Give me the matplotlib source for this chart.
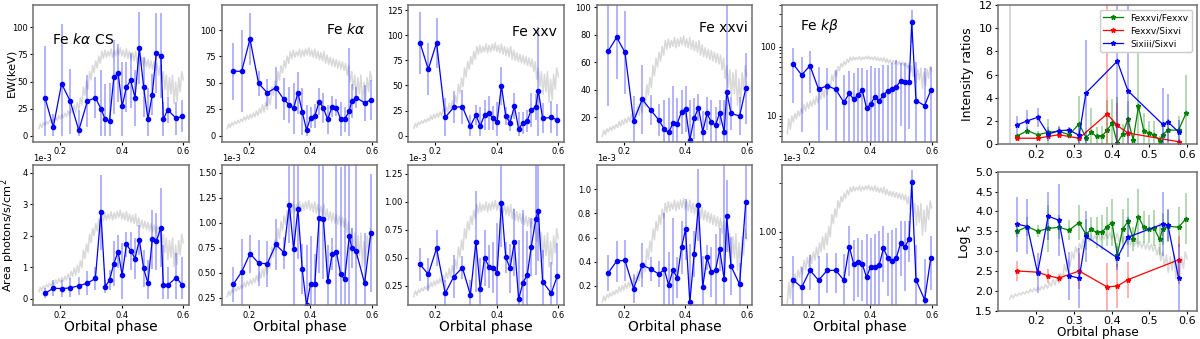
import numpy as np
import matplotlib
matplotlib.use('Agg')
import matplotlib.pyplot as plt
from matplotlib.ticker import ScalarFormatter, NullFormatter

plt.rcParams['axes.unicode_minus'] = False
plt.rcParams['mathtext.fontset'] = 'dejavusans'

# orbital phase of the spectral bins
phase = [0.150, 0.177, 0.204, 0.232, 0.260, 0.288, 0.314, 0.332, 0.346, 0.360, 0.374, 0.388, 0.401,
         0.415, 0.429, 0.443, 0.457, 0.471, 0.485, 0.499, 0.512, 0.527, 0.535, 0.549, 0.577, 0.597]

# equivalent widths (eV)
ew_kacs = [35, 8, 48, 32, 5, 32, 35, 25, 15, 13.5, 54, 58, 27, 45, 51, 35, 81, 45, 15, 38, 76, 74, 15, 24, 16, 18]
ew_kacs_err = [48, 12, 55, 30, 19, 24, 19, 36, 33, 35, 34, 27, 41, 23, 25, 26, 33, 28, 29, 19, 37, 39, 16, 12, 15, 15]
ew_ka = [61, 61, 91.5, 49.5, 40.7, 45.4, 34.4, 29, 26, 40.7, 22.7, 5.4, 17, 18.6, 32.2, 26, 15.5, 27.4, 26.5,
         15.5, 15.5, 23.3, 32.8, 36, 31.2, 33.8]
ew_ka_err = [27, 39, 25, 12, 13, 20, 20, 17, 24, 20, 22, 24, 10, 11, 13, 14, 14, 10, 8, 16, 12, 60, 16, 10, 17, 19]
ew_fe25 = [92.5, 66, 92.5, 18.2, 28.2, 28.8, 9.6, 20.6, 9.6, 20.6, 22.2, 17.2, 13.9, 49.7, 19.6, 12.9, 29.5, 6.6,
           12.9, 14.9, 25.5, 28.8, 44.8, 17.2, 18.2, 15.6]
ew_fe25_err = [31, 26, 25, 19, 16, 17, 11, 10, 19, 15, 17, 12, 20, 19, 9, 8, 13, 17, 11, 11, 17, 13, 63, 15, 16, 16]
ew_fe26 = [68.4, 78.2, 67.2, 17.2, 33, 25.2, 18, 11.2, 9, 15.5, 15.3, 24, 26, 3.4, 19.2, 27, 9.5, 22.8, 16.3,
           14.3, 23.3, 9.2, 38.6, 22.8, 20.9, 41]
ew_fe26_err = [40, 30, 30, 18, 25, 11, 12, 21, 25, 27, 19, 16, 17, 29, 15, 10, 15, 12, 16, 13, 9, 23, 65, 12, 14, 26]
ew_kb = [55.5, 38.8, 53, 24.1, 27.2, 24, 15.6, 21, 17.3, 19.9, 23.6, 12.8, 14.6, 18.8, 16.3, 20.1, 22.8, 24, 26.3,
         32.1, 30.4, 30.4, 225, 16.5, 14, 23.3]
ew_kb_err = [40, 33, 32, 27, 21, 22, 23, 23, 24, 29, 25, 33, 37, 30, 32, 34, 31, 33, 38, 25, 27, 24, 114, 44, 35, 28]

# line areas (1e-3 photons/s/cm2)
area_kacs = [0.18, 0.34, 0.33, 0.35, 0.42, 0.50, 0.65, 2.74, 0.39, 0.60, 1.12, 1.50, 0.76, 1.73, 1.53, 1.28, 1.87,
             0.97, 0.50, 1.89, 1.82, 2.26, 0.44, 0.43, 0.68, 0.44]
area_kacs_err = [0.16, 0.26, 0.26, 0.30, 0.28, 0.37, 0.37, 1.19, 0.21, 0.32, 0.70, 0.53, 1.00, 0.40, 0.60, 0.64,
                 0.47, 0.58, 0.73, 0.93, 0.90, 1.24, 1.27, 0.59, 0.77, 0.90]
area_ka = [0.388, 0.51, 0.693, 0.598, 0.591, 0.784, 0.703, 1.182, 0.738, 1.14, 0.535, 0.178, 0.388, 0.388, 1.052,
           1.035, 0.416, 0.685, 0.713, 0.486, 0.437, 0.867, 0.752, 0.717, 0.395, 0.895]
area_ka_err = [0.175, 0.33, 0.19, 0.23, 0.23, 0.25, 0.16, 0.38, 0.85, 0.50, 0.25, 0.60, 0.48, 0.30, 0.55, 0.60,
               0.36, 0.16, 0.90, 1.07, 1.15, 0.75, 0.20, 0.90, 0.50, 0.59]
area_fe25 = [0.443, 0.354, 0.586, 0.185, 0.333, 0.414, 0.17, 0.646, 0.22, 0.503, 0.423, 0.414, 0.369, 0.994, 0.506,
             0.408, 0.64, 0.131, 0.28, 0.348, 0.6, 0.848, 0.923, 0.289, 0.185, 0.34]
area_fe25_err = [0.15, 0.15, 0.16, 0.12, 0.19, 0.10, 0.13, 0.45, 0.28, 0.25, 0.19, 0.23, 0.44, 0.40, 0.14, 0.22,
                 0.30, 0.53, 0.65, 0.39, 0.26, 0.50, 0.45, 0.28, 0.28, 0.29]
area_fe26 = [0.31, 0.406, 0.412, 0.178, 0.374, 0.34, 0.299, 0.337, 0.208, 0.332, 0.268, 0.519, 0.668, 0.064, 0.461,
             0.87, 0.194, 0.436, 0.315, 0.332, 0.503, 0.254, 0.779, 0.365, 0.213, 0.895]
area_fe26_err = [0.15, 0.17, 0.17, 0.12, 0.18, 0.10, 0.11, 0.47, 0.27, 0.43, 0.17, 0.22, 0.25, 0.48, 0.19, 0.30,
                 0.25, 0.10, 0.21, 0.30, 0.18, 0.95, 0.30, 0.24, 0.18, 0.31]
area_kb = [0.499, 0.451, 0.575, 0.499, 0.575, 0.575, 0.499, 0.807, 0.63, 0.652, 0.63, 0.521, 0.605, 0.605, 0.62,
           0.787, 0.689, 0.662, 0.689, 0.849, 0.80, 0.905, 2.03, 0.50, 0.377, 0.685]
area_kb_err = [0.21, 0.15, 0.14, 0.21, 0.16, 0.16, 0.23, 0.28, 0.26, 0.26, 0.26, 0.44, 0.31, 0.36, 0.39, 0.30,
               0.29, 0.37, 0.37, 0.32, 0.37, 0.26, 0.38, 0.33, 0.30, 0.25]

# line ratios and ionisation parameter
phase_red = [0.150, 0.204, 0.232, 0.260, 0.314, 0.388, 0.415, 0.443, 0.577]
phase_blue = [0.150, 0.177, 0.204, 0.232, 0.260, 0.288, 0.314, 0.332, 0.415, 0.443, 0.535, 0.549, 0.577]
ratio_fe26_fe25 = [0.7, 1.15, 0.8, 1.0, 1.1, 0.8, 1.75, 0.55, 1.0, 0.65, 0.65, 1.2, 1.8, 0.1, 0.85, 2.15, 0.35,
                   3.25, 1.15, 0.95, 0.8, 0.3, 0.8, 1.2, 1.2, 2.65]
ratio_fe26_fe25_err = [0.2, 0.3, 0.3, 1.2, 0.4, 0.4, 2.4, 0.6, 2.1, 0.8, 0.9, 2.6, 2.1, 4.0, 0.9, 1.6, 0.4, 4.8,
                       1.5, 1.0, 1.2, 0.4, 0.8, 1.0, 1.2, 3.3]
ratio_fe25_si16 = [0.5, 0.5, 0.65, 0.8, 0.5, 2.6, 1.6, 0.95, 0.2]
ratio_fe25_si16_err = [0.15, 0.15, 0.15, 0.2, 0.2, 12, 1.9, 1.4, 0.2]
ratio_si13_si16 = [1.65, 2.0, 2.3, 0.85, 1.15, 1.2, 0.75, 4.4, 7.15, 4.6, 1.7, 1.9, 1.05]
ratio_si13_si16_err = [0.75, 0.9, 0.8, 0.6, 0.4, 0.3, 0.8, 4.6, 8, 8, 3.1, 2.4, 1.0]
logxi_fe26_fe25 = [3.5, 3.62, 3.5, 3.57, 3.6, 3.53, 3.72, 3.42, 3.55, 3.47, 3.47, 3.62, 3.72, 2.9, 3.55, 3.75, 3.3,
                   3.87, 3.6, 3.55, 3.58, 3.3, 3.55, 3.63, 3.6, 3.82]
logxi_fe26_fe25_err = [0.15, 0.25, 0.15, 0.6, 0.3, 0.25, 0.45, 0.4, 0.3, 0.4, 0.45, 0.5, 0.6, 0.3, 0.5, 0.6, 0.3,
                       0.7, 0.4, 0.35, 0.45, 0.4, 0.4, 0.4, 0.5, 0.65]
logxi_fe25_si16 = [2.5, 2.47, 2.38, 2.32, 2.5, 2.1, 2.12, 2.28, 2.78]
logxi_fe25_si16_err = [0.25, 0.1, 0.18, 0.1, 0.45, 0.6, 0.55, 0.45, 0.6]
logxi_si13_si16 = [3.68, 3.62, 2.45, 3.88, 3.78, 2.38, 2.32, 3.37, 2.83, 3.35, 3.68, 3.65, 2.33]
logxi_si13_si16_err = [0.69, 0.7, 0.5, 0.6, 0.9, 0.6, 0.75, 0.65, 0.3, 0.5, 0.8, 0.4, 0.85]

# background X-ray light curve (normalised)
lc_phase = [0.130, 0.135, 0.140, 0.145, 0.150, 0.155, 0.160, 0.165, 0.170, 0.175,
            0.180, 0.185, 0.190, 0.195, 0.200, 0.205, 0.210, 0.215, 0.220, 0.225,
            0.230, 0.235, 0.240, 0.245, 0.250, 0.255, 0.260, 0.265, 0.270, 0.275,
            0.280, 0.285, 0.290, 0.295, 0.300, 0.305, 0.310, 0.315, 0.320, 0.325,
            0.330, 0.335, 0.340, 0.345, 0.350, 0.355, 0.360, 0.365, 0.370, 0.375,
            0.380, 0.385, 0.390, 0.395, 0.400, 0.405, 0.410, 0.415, 0.420, 0.425,
            0.430, 0.435, 0.440, 0.445, 0.450, 0.455, 0.460, 0.465, 0.470, 0.475,
            0.480, 0.485, 0.490, 0.495, 0.500, 0.505, 0.510, 0.515, 0.520, 0.525,
            0.530, 0.535, 0.540, 0.545, 0.550, 0.555, 0.560, 0.565, 0.570, 0.575,
            0.580, 0.585, 0.590, 0.595, 0.600]
lc_rate = [0.07, 0.11, 0.08, 0.12, 0.10, 0.13, 0.11, 0.14, 0.12, 0.15,
           0.13, 0.17, 0.14, 0.18, 0.15, 0.19, 0.16, 0.20, 0.17, 0.22,
           0.18, 0.24, 0.20, 0.27, 0.21, 0.29, 0.23, 0.33, 0.27, 0.42,
           0.35, 0.47, 0.40, 0.55, 0.48, 0.60, 0.54, 0.64, 0.58, 0.68,
           0.62, 0.72, 0.66, 0.73, 0.67, 0.72, 0.68, 0.74, 0.67, 0.73,
           0.68, 0.74, 0.69, 0.75, 0.68, 0.73, 0.67, 0.74, 0.66, 0.72,
           0.65, 0.71, 0.64, 0.72, 0.62, 0.69, 0.61, 0.67, 0.60, 0.66,
           0.59, 0.65, 0.58, 0.64, 0.57, 0.63, 0.56, 0.62, 0.52, 0.60,
           0.46, 0.55, 0.40, 0.52, 0.34, 0.50, 0.36, 0.52, 0.28, 0.46,
           0.30, 0.50, 0.38, 0.55, 0.48]

titles = ['Fe $k\\alpha$ CS', 'Fe $k\\alpha$', 'Fe xxv', 'Fe xxvi', 'Fe $k\\beta$']
title_pos = [(0.12, 0.75), (0.67, 0.82), (0.667, 0.80), (0.66, 0.83), (0.117, 0.85)]

ew_sets = [(ew_kacs, ew_kacs_err), (ew_ka, ew_ka_err), (ew_fe25, ew_fe25_err),
           (ew_fe26, ew_fe26_err), (ew_kb, ew_kb_err)]
area_sets = [(area_kacs, area_kacs_err), (area_ka, area_ka_err), (area_fe25, area_fe25_err),
             (area_fe26, area_fe26_err), (area_kb, area_kb_err)]

ew_ylims = [(-5.5, 120.6), (-5.7, 123.7), (-6, 130), (2.2, 101.7), (4.2, 400)]
ew_ticks = [[0, 25, 50, 75, 100], [0, 25, 50, 75, 100], [0, 25, 50, 75, 100, 125], [20, 40, 60, 80, 100], None]
area_ylims = [(-0.19, 4.24), (0.18, 1.577), (0.08, 1.33), (0.043, 1.2), (0.35, 2.6)]
area_ticks = [[0, 1, 2, 3, 4], [0.25, 0.5, 0.75, 1.0, 1.25, 1.5], [0.25, 0.5, 0.75, 1.0, 1.25],
              [0.2, 0.4, 0.6, 0.8, 1.0], None]
lc_top_lims = [(-0.04, 1.11), (-0.04, 1.11), (-0.036, 1.05), (0.033, 0.96), (0.0545, 3.6)]
lc_bot_lims = [(-0.04, 1.13), (0.011, 1.0), (0.011, 1.0), (0.052, 0.97), (0.07, 1.12)]

SPINE = '#707070'


class TwoDecimalSci(ScalarFormatter):
    # log axis label like "1.00" with a "1e-3" offset
    def _set_format(self):
        self.format = '%1.2f'


def style(ax, size):
    for s in ax.spines.values():
        s.set_color(SPINE)
        s.set_linewidth(1.1)
    ax.tick_params(labelsize=size, length=2.5, pad=1.5, width=0.8)


def add_lc(ax, lims, log=False):
    tw = ax.twinx()
    tw.plot(lc_phase, lc_rate, color='#d9d9d9', lw=1.1)
    if log:
        tw.set_yscale('log')
    tw.set_ylim(lims)
    tw.axis('off')
    ax.set_zorder(tw.get_zorder() + 1)
    ax.patch.set_visible(False)


def draw(ax, x, y, err, color, marker='o', ms=3, clip=True):
    y = np.asarray(y, float)
    err = np.asarray(err, float)
    lower = np.minimum(err, y) if clip else err
    ax.errorbar(x, y, yerr=[lower, err], fmt='none', ecolor=matplotlib.colors.to_rgba(color, 0.3),
                elinewidth=1.4)
    return ax.plot(x, y, '-', marker=marker, color=color, ms=ms, lw=0.9)[0]


fig = plt.figure(figsize=(12, 3.39), dpi=100)

lefts = [0.02775, 0.18475, 0.34025, 0.49725, 0.65142]
width = 0.1296

for i in range(5):
    log = (i == 4)

    # equivalent width row
    ax = fig.add_axes([lefts[i], 0.582, width, 0.4032])
    add_lc(ax, lc_top_lims[i], log)
    if log:
        ax.set_yscale('log')
    y, e = ew_sets[i]
    draw(ax, phase, y, e, 'blue')
    ax.set_xlim(0.112, 0.618)
    ax.set_ylim(ew_ylims[i])
    ax.set_xticks([0.2, 0.4, 0.6])
    if log:
        ax.yaxis.set_major_formatter(ScalarFormatter())
        ax.yaxis.set_minor_formatter(NullFormatter())
    else:
        ax.set_yticks(ew_ticks[i])
    style(ax, 6)
    ax.text(title_pos[i][0], title_pos[i][1], titles[i], transform=ax.transAxes,
            fontsize=10, va='center', ha='left')
    if i == 0:
        ax.set_ylabel('EW(keV)', fontsize=8.2)
        ax.yaxis.set_label_coords(-0.11, 0.5)

    # line area row
    ax = fig.add_axes([lefts[i], 0.1003, width, 0.413])
    add_lc(ax, lc_bot_lims[i], log)
    if log:
        ax.set_yscale('log')
    y, e = area_sets[i]
    draw(ax, phase, np.array(y) * 1e-3, np.array(e) * 1e-3, 'blue')
    ax.set_xlim(0.112, 0.618)
    lo, hi = area_ylims[i]
    ax.set_ylim(lo * 1e-3, hi * 1e-3)
    ax.set_xticks([0.2, 0.4, 0.6])
    if log:
        fmt = TwoDecimalSci()
        fmt.set_powerlimits((0, 0))
        ax.yaxis.set_major_formatter(fmt)
        ax.yaxis.set_minor_formatter(NullFormatter())
    else:
        ax.set_yticks(np.array(area_ticks[i]) * 1e-3)
        ax.ticklabel_format(axis='y', style='sci', scilimits=(0, 0))
    style(ax, 6)
    ax.yaxis.get_offset_text().set_fontsize(6)
    ax.set_xlabel('Orbital phase', fontsize=10, labelpad=0)
    if i == 0:
        ax.set_ylabel('Area photons/s/cm$^2$', fontsize=8.2)
        ax.yaxis.set_label_coords(-0.105, 0.5)

# intensity ratios
ax = fig.add_axes([0.8319, 0.5752, 0.1653, 0.41])
ax.axvline(lc_phase[0], color='#d0d0d0', lw=1.2)
h1 = draw(ax, phase, ratio_fe26_fe25, ratio_fe26_fe25_err, 'green', marker='*', ms=3.5)
h2 = draw(ax, phase_red, ratio_fe25_si16, ratio_fe25_si16_err, 'red', marker='*', ms=3.5)
h3 = draw(ax, phase_blue, ratio_si13_si16, ratio_si13_si16_err, 'blue', marker='*', ms=3.5)
ax.set_xlim(0.1, 0.625)
ax.set_ylim(0, 12)
ax.set_xticks([0.2, 0.3, 0.4, 0.5, 0.6])
ax.set_yticks([0, 2, 4, 6, 8, 10, 12])
style(ax, 8)
ax.set_ylabel('Intensity ratios', fontsize=9, labelpad=3)
ax.legend([h1, h2, h3], ['Fexxvi/Fexxv', 'Fexxv/Sixvi', 'Sixiii/Sixvi'], loc='upper right',
          fontsize=6.5, handlelength=2.2, borderpad=0.4, labelspacing=0.45, framealpha=1)

# ionisation parameter
ax = fig.add_axes([0.8319, 0.0835, 0.1653, 0.41])
add_lc(ax, (-0.05, 1.37))
draw(ax, phase, logxi_fe26_fe25, logxi_fe26_fe25_err, 'green', marker='*', ms=3.5, clip=False)
draw(ax, phase_red, logxi_fe25_si16, logxi_fe25_si16_err, 'red', marker='*', ms=3.5, clip=False)
draw(ax, phase_blue, logxi_si13_si16, logxi_si13_si16_err, 'blue', marker='*', ms=3.5, clip=False)
ax.set_xlim(0.1, 0.625)
ax.set_ylim(1.5, 5.0)
ax.set_xticks([0.2, 0.3, 0.4, 0.5, 0.6])
ax.set_yticks([1.5, 2.0, 2.5, 3.0, 3.5, 4.0, 4.5, 5.0])
style(ax, 8)
ax.set_ylabel('Log ξ', fontsize=9, labelpad=3)
ax.set_xlabel('Orbital phase', fontsize=8.7, labelpad=0)

fig.savefig('out.png', dpi=100)
